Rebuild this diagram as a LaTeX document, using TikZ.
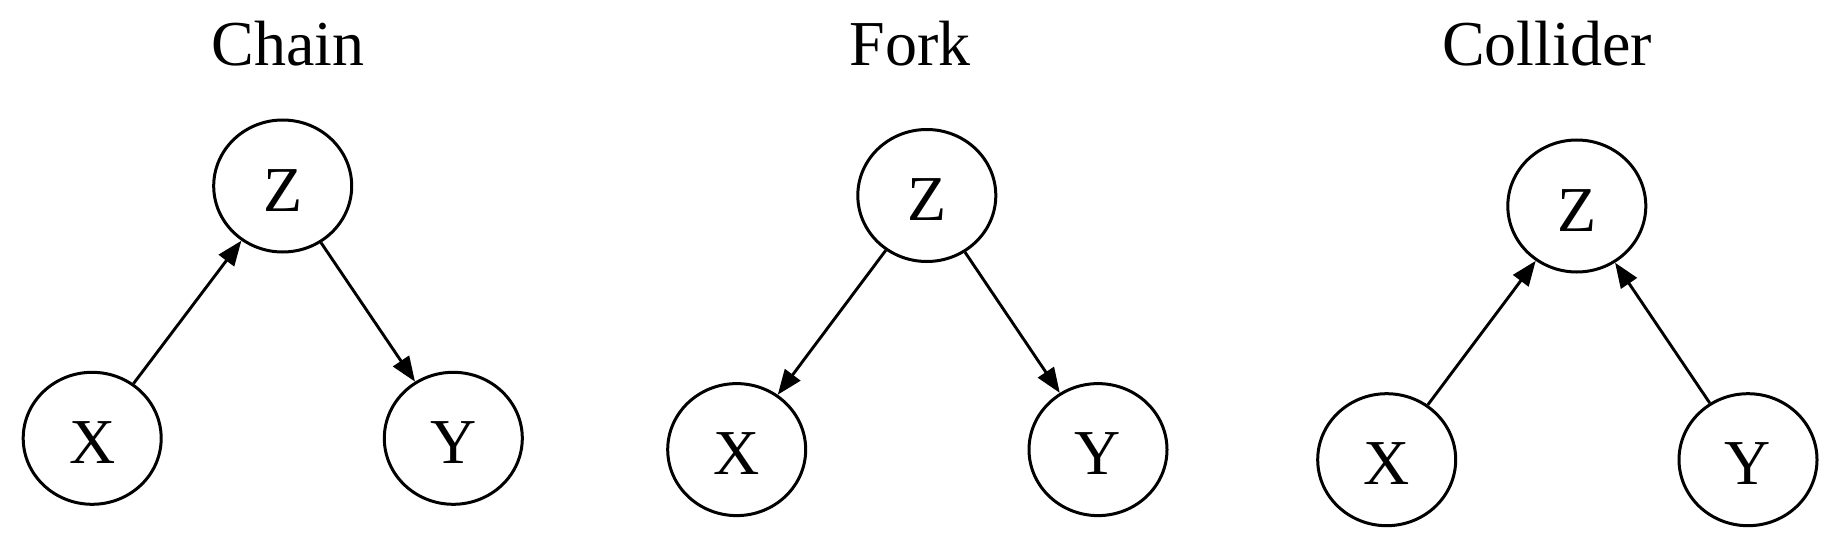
\documentclass[tikz,border=0pt]{standalone}
\usepackage{fontspec}
\setmainfont{Liberation Serif}
\usetikzlibrary{arrows.meta,shapes.geometric}
\begin{document}
\begin{tikzpicture}[x=0.5pt,y=-0.5pt,
  var/.style={ellipse,draw=black,line width=1.5pt,minimum width=69pt,minimum height=66pt,
    inner sep=0pt,font=\fontsize{32}{38}\selectfont,text height=25pt,text depth=0pt},
  ttl/.style={anchor=base,font=\fontsize{32}{38}\selectfont,inner sep=0pt},
  edge/.style={line width=1.45pt,-{Triangle[length=12.5pt,width=9.5pt]}}]
\useasboundingbox (0,0) rectangle (1842,540);
% Chain
\node[ttl] (t1) at (288,66) {Chain};
\node[var] (cZ) at (282.7,186) {Z};
\node[var] (cX) at (92.2,438.3) {X};
\node[var] (cY) at (453.3,438.3) {Y};
\draw[edge] (cX) -- (cZ);
\draw[edge] (cZ) -- (cY);
% Fork
\node[ttl] (t2) at (910.4,66) {Fork};
\node[var] (fZ) at (926.8,195.5) {Z};
\node[var] (fX) at (736.7,449.6) {X};
\node[var] (fY) at (1098,449.6) {Y};
\draw[edge] (fZ) -- (fX);
\draw[edge] (fZ) -- (fY);
% Collider
\node[ttl] (t3) at (1547,66) {Collider};
\node[var] (kZ) at (1576.8,206) {Z};
\node[var] (kX) at (1386.7,459.7) {X};
\node[var] (kY) at (1748,459.7) {Y};
\draw[edge] (kX) -- (kZ);
\draw[edge] (kY) -- (kZ);
\end{tikzpicture}
\end{document}
